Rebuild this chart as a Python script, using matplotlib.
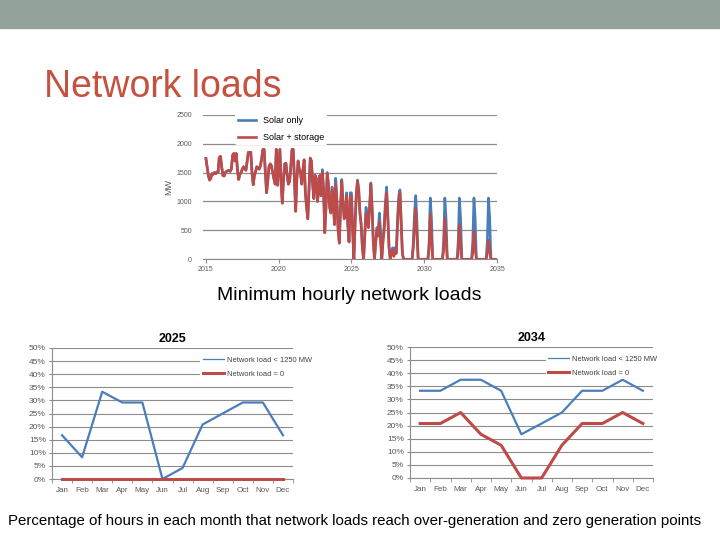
import numpy as np
import matplotlib
matplotlib.use('Agg')
import matplotlib.pyplot as plt
from matplotlib.lines import Line2D
from matplotlib.patches import Rectangle

plt.rcParams['font.family'] = ['Liberation Sans', 'DejaVu Sans']

# minimum hourly network load per month, MW (one row per year, 2015..2034)
solar_storage = [
    [1745, 1600, 1450, 1370, 1400, 1480, 1470, 1500, 1480, 1510, 1500, 1760],
    [1780, 1600, 1450, 1440, 1500, 1520, 1530, 1540, 1520, 1560, 1800, 1830],
    [1700, 1830, 1550, 1380, 1470, 1500, 1560, 1600, 1560, 1540, 1700, 1850],
    [1840, 1850, 1500, 1290, 1450, 1520, 1600, 1580, 1560, 1620, 1750, 1900],
    [1900, 1500, 1150, 1350, 1600, 1650, 1620, 1500, 1400, 1300, 1900, 1280],
    [1600, 1900, 1300, 970, 1400, 1650, 1660, 1450, 1300, 1350, 1600, 1900],
    [1900, 1350, 830, 1400, 1700, 1550, 1500, 1300, 1550, 1720, 1150, 900],
    [700, 1200, 1750, 1700, 1300, 1050, 1450, 1400, 1000, 1200, 1450, 1100],
    [1500, 1200, 460, 900, 1480, 1300, 900, 800, 1200, 1000, 600, 1300],
    [1000, 500, 280, 900, 1350, 1000, 700, 750, 1100, 600, 300, 1050],
    [1100, 500, 0, 600, 1100, 1350, 1200, 800, 600, 200, 0, 400],
    [800, 700, 550, 900, 1300, 900, 300, 0, 300, 500, 400, 650],
    [300, 0, 300, 500, 900, 1150, 700, 200, 0, 100, 150, 50],
    [150, 100, 600, 1000, 1150, 600, 100, 0, 0, 0, 0, 0],
    [0, 0, 0, 200, 600, 880, 400, 0, 0, 0, 0, 0],
    [0, 0, 0, 0, 150, 780, 400, 0, 0, 0, 0, 0],
    [0, 0, 0, 0, 150, 720, 350, 0, 0, 0, 0, 0],
    [0, 0, 0, 0, 100, 600, 300, 0, 0, 0, 0, 0],
    [0, 0, 0, 0, 100, 480, 200, 0, 0, 0, 0, 0],
    [0, 0, 0, 0, 100, 330, 150, 0, 0, 0, 0, 0],
]
solar_only = [
    [1745, 1600, 1450, 1370, 1400, 1480, 1470, 1500, 1480, 1510, 1500, 1760],
    [1780, 1600, 1450, 1440, 1500, 1520, 1530, 1540, 1520, 1560, 1800, 1830],
    [1700, 1830, 1550, 1380, 1470, 1500, 1560, 1600, 1560, 1540, 1700, 1850],
    [1840, 1850, 1500, 1290, 1450, 1520, 1600, 1580, 1560, 1620, 1750, 1900],
    [1900, 1500, 1150, 1350, 1600, 1650, 1620, 1500, 1400, 1300, 1900, 1280],
    [1600, 1900, 1300, 970, 1400, 1650, 1660, 1450, 1300, 1350, 1600, 1900],
    [1900, 1350, 830, 1400, 1700, 1550, 1500, 1300, 1550, 1720, 1150, 900],
    [700, 1200, 1750, 1700, 1300, 1050, 1450, 1400, 1000, 1200, 1450, 1100],
    [1550, 1200, 460, 900, 1500, 1300, 900, 800, 1250, 1000, 600, 1400],
    [1050, 500, 280, 900, 1380, 1000, 700, 750, 1150, 600, 300, 1150],
    [1150, 500, 0, 650, 1150, 1370, 1200, 800, 600, 200, 0, 450],
    [900, 750, 550, 950, 1320, 900, 300, 0, 300, 550, 450, 800],
    [500, 0, 350, 600, 1000, 1250, 750, 200, 0, 150, 200, 100],
    [200, 150, 700, 1100, 1200, 650, 100, 0, 0, 0, 0, 0],
    [0, 0, 0, 300, 800, 1100, 650, 0, 0, 0, 0, 0],
    [0, 0, 0, 0, 300, 1060, 700, 0, 0, 0, 0, 0],
    [0, 0, 0, 0, 300, 1060, 700, 0, 0, 0, 0, 0],
    [0, 0, 0, 0, 300, 1060, 700, 0, 0, 0, 0, 0],
    [0, 0, 0, 0, 300, 1060, 700, 0, 0, 0, 0, 0],
    [0, 0, 0, 0, 300, 1060, 700, 0, 0, 0, 0, 0],
]
first_year = 2015
year_ticks = [2015, 2020, 2025, 2030, 2035]
mw_ticks = [0, 500, 1000, 1500, 2000, 2500]

# share of hours per month (%)
months = ['Jan', 'Feb', 'Mar', 'Apr', 'May', 'Jun',
          'Jul', 'Aug', 'Sep', 'Oct', 'Nov', 'Dec']
pct_ticks = [0, 5, 10, 15, 20, 25, 30, 35, 40, 45, 50]
below_1250_2025 = [16.7, 8.3, 33.3, 29.2, 29.2, 0, 4.2, 20.8, 25, 29.2, 29.2, 16.7]
zero_load_2025 = [0, 0, 0, 0, 0, 0, 0, 0, 0, 0, 0, 0]
below_1250_2034 = [33.3, 33.3, 37.5, 37.5, 33.3, 16.7, 20.8, 25, 33.3, 33.3, 37.5, 33.3]
zero_load_2034 = [20.8, 20.8, 25, 16.7, 12.5, 0, 0, 12.5, 20.8, 20.8, 25, 20.8]

BLUE = '#4A7EBB'
RED = '#BE4B48'
GRID = '#8C8C8C'
TXT = '#595959'

W, H = 720, 540


def fig_box(x0, y0, x1, y1):
    # pixel box (top-left origin) -> figure fraction rect
    return [x0 / W, 1 - y1 / H, (x1 - x0) / W, (y1 - y0) / H]


fig = plt.figure(figsize=(7.2, 5.4), dpi=100)
fig.patches.append(Rectangle((0, 1 - 28 / H), 1, 28 / H, transform=fig.transFigure,
                             color='#94A39A', zorder=0))
fig.text(44 / W, 1 - 97 / H, 'Network loads', fontsize=27, color='#C4523F',
         ha='left', va='baseline')

# ---- top chart
ax = fig.add_axes(fig_box(203, 114.7, 497, 259.3))
ss = np.array(solar_storage).ravel()
so = np.array(solar_only).ravel()
x = first_year + np.arange(len(ss)) / 12
ax.plot(x, so, color=BLUE, lw=1.9, label='Solar only', zorder=3)
ax.plot(x, ss, color=RED, lw=1.9, label='Solar + storage', zorder=4)
ax.set_xlim(2014.8, 2035)
ax.set_ylim(0, 2500)
ax.set_xticks(year_ticks)
ax.set_yticks(mw_ticks)
ax.grid(axis='y', color=GRID, lw=0.9)
ax.set_axisbelow(True)
for s in ['top', 'right', 'left']:
    ax.spines[s].set_visible(False)
ax.spines['bottom'].set_color(GRID)
ax.tick_params(axis='y', length=0, labelsize=5, labelcolor=TXT, pad=8)
ax.tick_params(axis='x', length=3, color=GRID, labelsize=5, labelcolor=TXT, pad=2)
ax.set_ylabel('MW', fontsize=6.5, color=TXT, labelpad=2)
ax.legend(loc='upper left', bbox_to_anchor=(0.095, 1.04), fontsize=6.5,
          frameon=True, facecolor='white', edgecolor='none', framealpha=1,
          handlelength=2.0, handletextpad=0.8, labelspacing=0.9, borderpad=0.3)

fig.text(349 / W, 1 - 300 / H, 'Minimum hourly network loads', fontsize=14,
         ha='center', va='baseline')


# ---- bottom charts
def month_chart(box, title, blue, red, leg_x, title_pad):
    a = fig.add_axes(fig_box(*box))
    xs = np.arange(len(months))
    a.plot(xs, blue, color=BLUE, lw=1.6, zorder=3)
    a.plot(xs, red, color=RED, lw=2.2, zorder=4, clip_on=False)
    a.set_xlim(-0.5, 11.5)
    a.set_ylim(0, 50)
    a.set_yticks(pct_ticks)
    a.set_yticklabels([f'{p}%' for p in pct_ticks])
    a.set_xticks(xs)
    a.set_xticklabels(months)
    a.set_xticks(np.arange(-0.5, 12, 1), minor=True)
    a.grid(axis='y', color=GRID, lw=0.8)
    a.set_axisbelow(True)
    for s in ['top', 'right']:
        a.spines[s].set_visible(False)
    for s in ['left', 'bottom']:
        a.spines[s].set_color(GRID)
        a.spines[s].set_linewidth(0.8)
    a.tick_params(axis='y', length=2.5, color=GRID, labelsize=6, labelcolor=TXT, pad=2)
    a.tick_params(axis='x', which='major', length=0, labelsize=5.8, labelcolor=TXT, pad=6)
    a.tick_params(axis='x', which='minor', length=3, color=GRID)
    a.set_title(title, fontsize=9, fontweight='bold', pad=title_pad)
    handles = [Line2D([], [], color=BLUE, lw=0.9), Line2D([], [], color=RED, lw=2.2)]
    a.legend(handles, ['Network load < 1250 MW', 'Network load = 0'],
             loc='upper left', bbox_to_anchor=(leg_x, 0.98), fontsize=5.4,
             frameon=True, facecolor='white', edgecolor='none', framealpha=1,
             handlelength=2.8, handletextpad=0.4, labelspacing=0.9, borderpad=0.3,
             labelcolor='#404040')
    return a


month_chart((52, 348, 293, 479), '2025', below_1250_2025, zero_load_2025, 0.60, 4)
month_chart((410, 347, 653, 478), '2034', below_1250_2034, zero_load_2034, 0.545, 4)

fig.text(355 / W, 1 - 525 / H,
         'Percentage of hours in each month that network loads reach over-generation '
         'and zero generation points', fontsize=10.8, ha='center', va='baseline')

fig.savefig('out.png', dpi=100)
